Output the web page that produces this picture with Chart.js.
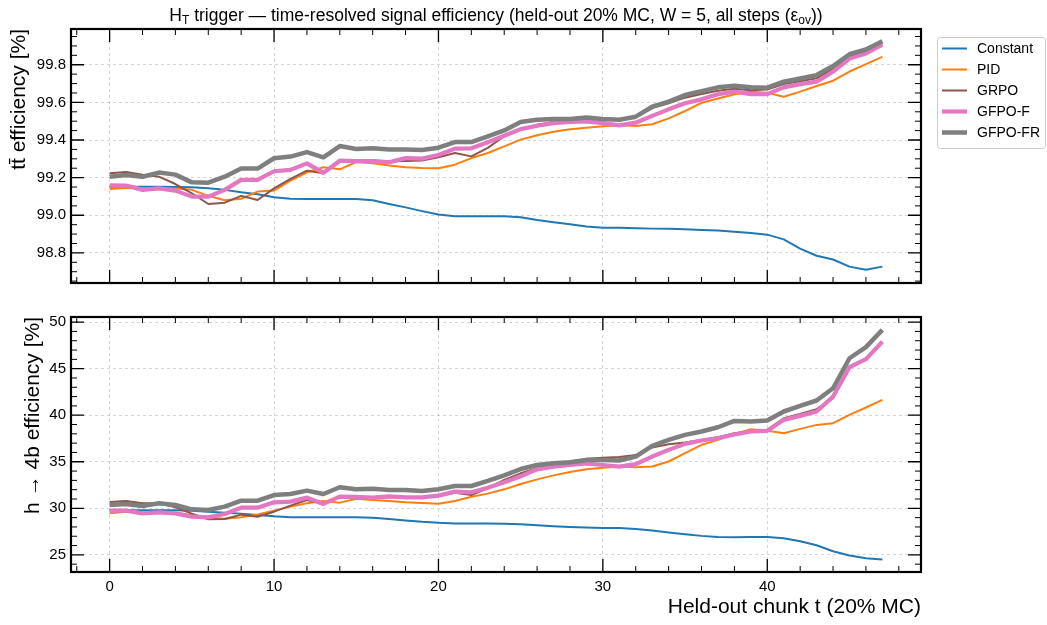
<!DOCTYPE html>
<html>
<head>
<meta charset="utf-8">
<script src="https://cdn.jsdelivr.net/npm/chart.js@4.4.1/dist/chart.umd.min.js"></script>
<style>
  html, body { margin: 0; padding: 0; background: #fff; }
  body { width: 1047px; height: 625px; position: relative; overflow: hidden; font-family: "Liberation Sans", Arial, sans-serif; }
  canvas { position: absolute; left: 0; }
  #c1 { top: 0; }
  #c2 { top: 300px; }
  #title { position: absolute; left: 0; width: 992px; top: 4px; text-align: center; font-size: 17.5px; line-height: 22px; color: #000; white-space: nowrap; }
  #title sub { font-size: 12px; vertical-align: -3px; line-height: 0; }
</style>
</head>
<body>
<canvas id="c1" width="1047" height="300"></canvas>
<canvas id="c2" width="1047" height="325"></canvas>
<div id="title">H<sub>T</sub> trigger — time-resolved signal efficiency (held-out 20% MC, W = 5, all steps (ε<sub>ov</sub>))</div>
<script>
// ---------------- data ----------------
const chunks = [0,1,2,3,4,5,6,7,8,9,10,11,12,13,14,15,16,17,18,19,20,21,22,23,24,25,26,27,28,29,30,31,32,33,34,35,36,37,38,39,40,41,42,43,44,45,46,47];
const seriesNames = ["Constant", "PID", "GRPO", "GFPO-F", "GFPO-FR"];

// tt̄ efficiency [%]
const ttConstant = [99.152,99.152,99.152,99.152,99.150,99.149,99.143,99.135,99.122,99.112,99.096,99.088,99.087,99.087,99.087,99.087,99.080,99.060,99.042,99.022,99.004,98.995,98.995,98.995,98.995,98.990,98.975,98.963,98.952,98.940,98.934,98.933,98.931,98.929,98.928,98.926,98.922,98.919,98.913,98.906,98.897,98.872,98.823,98.785,98.765,98.727,98.710,98.727];
const ttPID      = [99.140,99.145,99.145,99.142,99.142,99.135,99.103,99.080,99.088,99.126,99.131,99.184,99.228,99.255,99.244,99.283,99.276,99.264,99.255,99.251,99.250,99.269,99.304,99.331,99.366,99.402,99.425,99.444,99.457,99.465,99.473,99.478,99.475,99.484,99.515,99.554,99.598,99.621,99.643,99.657,99.651,99.630,99.657,99.687,99.715,99.764,99.803,99.842];
const ttGRPO     = [99.223,99.230,99.216,99.205,99.166,99.117,99.060,99.067,99.103,99.081,99.143,99.193,99.237,99.223,99.285,99.291,99.291,99.287,99.288,99.291,99.308,99.331,99.313,99.358,99.420,99.455,99.481,99.496,99.503,99.506,99.511,99.512,99.522,99.570,99.595,99.625,99.645,99.662,99.672,99.665,99.668,99.697,99.712,99.728,99.778,99.842,99.870,99.915];
const ttGFPOF    = [99.159,99.158,99.135,99.143,99.131,99.099,99.099,99.135,99.188,99.188,99.234,99.241,99.276,99.225,99.290,99.288,99.288,99.281,99.304,99.301,99.320,99.354,99.356,99.388,99.423,99.458,99.476,99.490,99.496,99.499,99.490,99.478,99.492,99.528,99.563,99.595,99.616,99.643,99.657,99.644,99.644,99.680,99.697,99.710,99.763,99.833,99.860,99.907];
const ttGFPOFR   = [99.205,99.214,99.205,99.227,99.216,99.175,99.173,99.205,99.248,99.248,99.303,99.312,99.336,99.308,99.368,99.352,99.356,99.350,99.350,99.347,99.359,99.389,99.389,99.419,99.451,99.496,99.508,99.512,99.512,99.519,99.512,99.508,99.524,99.577,99.604,99.639,99.660,99.680,99.688,99.680,99.678,99.710,99.727,99.745,99.793,99.856,99.881,99.925];

// h → 4b efficiency [%]
const hConstant = [29.82,29.79,29.79,29.79,29.79,29.75,29.64,29.53,29.43,29.28,29.14,29.05,29.03,29.03,29.03,29.03,28.99,28.85,28.70,28.55,28.44,28.37,28.36,28.36,28.35,28.28,28.18,28.08,28.00,27.93,27.89,27.88,27.79,27.61,27.40,27.22,27.04,26.91,26.90,26.93,26.93,26.79,26.47,26.04,25.39,24.93,24.64,24.50];
const hPID      = [29.46,29.64,29.53,29.60,29.53,29.28,29.00,28.89,29.05,29.35,29.75,30.18,30.54,30.79,30.61,31.02,30.90,30.79,30.64,30.57,30.50,30.79,31.25,31.58,32.04,32.61,33.11,33.54,33.90,34.19,34.37,34.50,34.42,34.49,35.03,35.92,36.82,37.35,38.00,38.50,38.32,38.07,38.53,38.96,39.14,40.04,40.83,41.65];
const hGRPO     = [30.68,30.79,30.54,30.54,30.11,29.43,28.82,28.85,29.32,29.10,29.64,30.29,30.90,30.47,31.25,31.25,31.20,31.18,31.18,31.18,31.36,31.68,31.43,32.15,33.04,33.76,34.30,34.65,34.90,35.33,35.44,35.50,35.72,36.53,36.89,37.07,37.35,37.64,38.07,38.25,38.43,39.68,40.14,40.65,41.83,45.05,46.02,47.81];
const hGFPOF    = [29.75,29.75,29.46,29.57,29.46,29.10,29.03,29.39,30.07,30.07,30.64,30.72,31.15,30.47,31.25,31.22,31.15,31.29,31.18,31.18,31.36,31.79,31.72,32.22,32.79,33.44,34.19,34.48,34.65,34.83,34.65,34.48,34.74,35.56,36.28,36.92,37.28,37.53,37.93,38.25,38.32,39.50,39.93,40.40,42.00,45.16,46.02,47.91];
const hGFPOFR   = [30.36,30.47,30.25,30.54,30.36,29.89,29.82,30.18,30.82,30.82,31.43,31.54,31.90,31.54,32.26,32.04,32.11,31.97,31.97,31.86,32.04,32.40,32.40,32.94,33.54,34.22,34.65,34.83,34.94,35.19,35.19,35.13,35.56,36.71,37.35,37.89,38.25,38.71,39.39,39.32,39.43,40.40,41.00,41.58,42.90,46.12,47.31,49.17];

// ticks and axis limits
const xTicks = [0, 10, 20, 30, 40];
const xMinorStep = 2;
const xRange = [-2.35, 49.35];
const yTicksTop = [98.8, 99.0, 99.2, 99.4, 99.6, 99.8];
const yMinorTop = 0.05;
const yRangeTop = [98.64, 99.99];
const yTicksBottom = [25, 30, 35, 40, 45, 50];
const yMinorBottom = 1;
const yRangeBottom = [23.16, 50.55];

// ---------------- styles ----------------
const FONT = '"Liberation Sans", Arial, sans-serif';
const colors = ['#1f77b4', '#ff7f0e', '#8c564b', '#e377c2', '#7f7f7f'];
const widths = [2, 2, 2, 4.2, 4.5];
const drawOrder = [5, 4, 3, 2, 1];

function makeDatasets(list) {
  return list.map((vals, i) => ({
    label: seriesNames[i],
    data: chunks.map((t, k) => ({ x: t, y: vals[k] })),
    borderColor: colors[i],
    backgroundColor: colors[i],
    borderWidth: widths[i],
    pointRadius: 0,
    tension: 0,
    fill: false,
    borderJoinStyle: 'round',
    borderCapStyle: 'butt',
    order: drawOrder[i]
  }));
}

// inward ticks on all four sides + thick frame
const frameTicks = {
  id: 'frameTicks',
  afterDatasetsDraw(chart, args, opts) {
    const { ctx, chartArea: a } = chart;
    const xs = chart.scales.x, ys = chart.scales.y;
    ctx.save();
    ctx.strokeStyle = '#000';
    const MAJ = 13, MIN = 6;
    function vals(scale, step) {
      const out = [];
      for (let k = Math.ceil(scale.min / step - 1e-9); k * step <= scale.max + 1e-9; k++) out.push(k * step);
      return out;
    }
    function isMajor(v, majors) { return majors.some(m => Math.abs(m - v) < 1e-7); }
    const xMaj = opts.xMajors, yMaj = opts.yMajors;
    const drawX = (v, len) => {
      const px = xs.getPixelForValue(v);
      ctx.beginPath();
      ctx.moveTo(px, a.bottom); ctx.lineTo(px, a.bottom - len);
      ctx.moveTo(px, a.top); ctx.lineTo(px, a.top + len);
      ctx.stroke();
    };
    const drawY = (v, len) => {
      const py = ys.getPixelForValue(v);
      ctx.beginPath();
      ctx.moveTo(a.left, py); ctx.lineTo(a.left + len, py);
      ctx.moveTo(a.right, py); ctx.lineTo(a.right - len, py);
      ctx.stroke();
    };
    ctx.lineWidth = 1;
    vals(xs, opts.xMinor).forEach(v => { if (!isMajor(v, xMaj)) drawX(v, MIN); });
    vals(ys, opts.yMinor).forEach(v => { if (!isMajor(v, yMaj)) drawY(v, MIN); });
    ctx.lineWidth = 1.3;
    xMaj.forEach(v => drawX(v, MAJ));
    yMaj.forEach(v => drawY(v, MAJ));
    ctx.lineWidth = 2.2;
    ctx.strokeRect(a.left, a.top, a.right - a.left, a.bottom - a.top);
    ctx.restore();
  }
};

// legend drawn from the datasets
const legendBox = {
  id: 'legendBox',
  afterDraw(chart, args, opts) {
    if (!opts.show) return;
    const { ctx } = chart;
    const x0 = 937, y0 = 37, w = 108, h = 111;
    ctx.save();
    ctx.beginPath();
    ctx.roundRect(x0 + 0.5, y0 + 0.5, w, h, 3);
    ctx.fillStyle = 'rgba(255,255,255,0.8)';
    ctx.fill();
    ctx.strokeStyle = '#cccccc';
    ctx.lineWidth = 1;
    ctx.stroke();
    ctx.font = '14px ' + FONT;
    ctx.textBaseline = 'middle';
    ctx.textAlign = 'left';
    chart.data.datasets.forEach((ds, i) => {
      const yy = y0 + 11.5 + i * 21;
      ctx.beginPath();
      ctx.strokeStyle = ds.borderColor;
      ctx.lineWidth = ds.borderWidth;
      ctx.moveTo(x0 + 5, yy); ctx.lineTo(x0 + 30, yy);
      ctx.stroke();
      ctx.fillStyle = '#000';
      ctx.fillText(ds.label, x0 + 40, yy + 1);
    });
    ctx.restore();
  }
};

function makeChart(canvasId, datasets, cfg) {
  return new Chart(document.getElementById(canvasId), {
    type: 'line',
    data: { datasets },
    options: {
      responsive: false,
      animation: false,
      events: [],
      layout: { padding: cfg.padding },
      plugins: {
        legend: { display: false },
        tooltip: { enabled: false },
        frameTicks: { xMajors: xTicks, yMajors: cfg.yTicks, xMinor: xMinorStep, yMinor: cfg.yMinor },
        legendBox: { show: cfg.legend }
      },
      scales: {
        x: {
          type: 'linear',
          min: xRange[0], max: xRange[1],
          afterBuildTicks: s => { s.ticks = xTicks.map(v => ({ value: v })); },
          afterFit: s => { s.height = cfg.xHeight; },
          grid: { display: true, drawTicks: false, color: 'rgba(0,0,0,0.16)', lineWidth: 1 },
          border: { display: false, dash: [3, 3] },
          ticks: { display: cfg.xLabels, padding: 6, color: '#000', font: { family: FONT, size: 15 }, maxRotation: 0, callback: v => String(v) },
          title: { display: cfg.xLabels, text: 'Held-out chunk t (20% MC)', align: 'end', color: '#000', font: { family: FONT, size: 21 }, padding: { top: 0, bottom: 5 } }
        },
        y: {
          type: 'linear',
          min: cfg.yRange[0], max: cfg.yRange[1],
          afterBuildTicks: s => { s.ticks = cfg.yTicks.map(v => ({ value: v })); },
          afterFit: s => { s.width = 71; },
          grid: { display: true, drawTicks: false, color: 'rgba(0,0,0,0.16)', lineWidth: 1 },
          border: { display: false, dash: [3, 3] },
          ticks: { padding: 5, color: '#000', font: { family: FONT, size: 15 }, callback: cfg.yFmt },
          title: { display: true, text: cfg.yTitle, align: 'end', color: '#000', font: { family: FONT, size: 21 }, padding: { top: cfg.yTitlePad, bottom: 0 } }
        }
      }
    },
    plugins: [frameTicks, legendBox]
  });
}

makeChart('c1', makeDatasets([ttConstant, ttPID, ttGRPO, ttGFPOF, ttGFPOFR]), {
  padding: { left: 0, top: 29, right: 126, bottom: 0 },
  xHeight: 17, xLabels: false,
  yTicks: yTicksTop, yMinor: yMinorTop, yRange: yRangeTop,
  yFmt: v => Number(v).toFixed(1),
  yTitle: 'tt\u0304 efficiency [%]', yTitlePad: 7,
  legend: true
});

makeChart('c2', makeDatasets([hConstant, hPID, hGRPO, hGFPOF, hGFPOFR]), {
  padding: { left: 0, top: 17, right: 126, bottom: 0 },
  xHeight: 53, xLabels: true,
  yTicks: yTicksBottom, yMinor: yMinorBottom, yRange: yRangeBottom,
  yFmt: v => String(v),
  yTitle: 'h \u2192 4b efficiency [%]', yTitlePad: 21,
  legend: false
});
</script>
</body>
</html>
